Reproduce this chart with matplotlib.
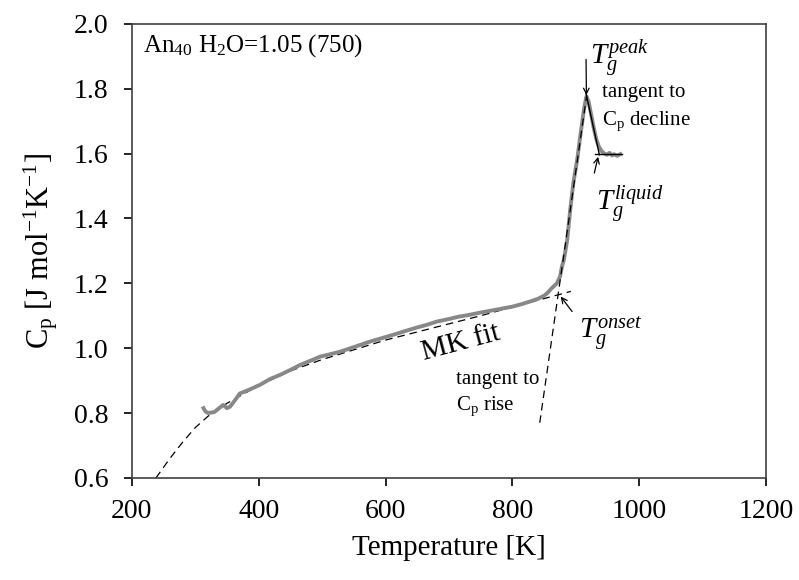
import numpy as np
from matplotlib import pyplot as plt

temp_k = [313, 316, 320, 330, 344, 350, 355, 362, 370, 385, 402, 418, 434, 450,
          465, 480, 497, 512, 528, 545, 560, 575, 589, 610, 628, 650, 665, 681,
          700, 715, 733, 750, 770, 786, 800, 815, 828, 840, 850, 855, 862, 870,
          875, 878, 881, 886, 891, 896, 902, 908, 913, 916.6, 920, 924, 928, 932,
          936, 941, 945, 949, 953, 957, 960, 965, 970]
cp = [0.815, 0.805, 0.800, 0.803, 0.825, 0.815, 0.820, 0.838, 0.860, 0.872,
      0.887, 0.905, 0.918, 0.933, 0.948, 0.960, 0.974, 0.981, 0.989, 1.000,
      1.010, 1.020, 1.028, 1.040, 1.051, 1.064, 1.072, 1.082, 1.090, 1.097,
      1.103, 1.110, 1.117, 1.123, 1.128, 1.136, 1.144, 1.152, 1.162, 1.170,
      1.185, 1.200, 1.221, 1.252, 1.272, 1.330, 1.426, 1.510, 1.581, 1.670,
      1.740, 1.776, 1.760, 1.720, 1.680, 1.645, 1.622, 1.606, 1.600, 1.596,
      1.602, 1.594, 1.598, 1.593, 1.598]

# MK fit (dashed)
mk_t = [238, 260, 280, 300, 320, 350, 400, 450, 500, 550, 600, 650, 700, 750,
        800, 850, 875, 892]
mk_cp = [0.600, 0.660, 0.710, 0.755, 0.790, 0.830, 0.885, 0.930, 0.965, 0.995,
         1.025, 1.050, 1.075, 1.100, 1.127, 1.153, 1.166, 1.175]

# tangent lines
rise_t = [843, 917]
rise_cp = [0.77, 1.78]
decline_t = [916, 937]
decline_cp = [1.785, 1.596]
liquid_t = [930, 972]
liquid_cp = [1.60, 1.60]

plt.rcParams['font.family'] = ['Liberation Serif', 'DejaVu Serif']
plt.rcParams['mathtext.fontset'] = 'custom'
plt.rcParams['mathtext.rm'] = 'Liberation Serif'
plt.rcParams['mathtext.it'] = 'Liberation Serif:italic'
plt.rcParams['mathtext.bf'] = 'Liberation Serif:bold'

fig = plt.figure(figsize=(7.99, 5.80), dpi=100)
ax = fig.add_axes([0.165, 0.176, 0.794, 0.783])

ax.plot(mk_t, mk_cp, color='black', lw=0.9, dashes=(6, 4))
ax.plot(temp_k, cp, color='#888888', lw=2.8, solid_joinstyle='round')
ax.plot(rise_t, rise_cp, color='black', lw=0.9, dashes=(6, 4))
ax.plot(decline_t, decline_cp, color='black', lw=1.0)
ax.plot(liquid_t, liquid_cp, color='black', lw=1.0)

ax.set_xlim(200, 1200)
ax.set_ylim(0.6, 2.0)
ax.set_xticks([200, 400, 600, 800, 1000, 1200])
ax.set_yticks(np.arange(0.6, 2.01, 0.2))
ax.yaxis.set_major_formatter(plt.FormatStrFormatter('%.1f'))
ax.tick_params(direction='out', length=6, width=1.2, labelsize=20, colors='black')
ax.tick_params(axis='x', pad=9)
ax.tick_params(axis='y', pad=11)
for s in ax.spines.values():
    s.set_linewidth(1.2)
    s.set_color('#404040')

ax.set_xlabel('Temperature [K]', fontsize=21, labelpad=8)
ax.set_ylabel(r'C$_\mathrm{p}$ [J mol$^\mathrm{-1}$K$^\mathrm{-1}$]', fontsize=22, labelpad=10)

ax.text(0.017, 0.953, r'An$_\mathrm{40}$ H$_\mathrm{2}$O=1.05 (750)', transform=ax.transAxes,
        fontsize=18, ha='left', va='center')

ax.text(718, 1.015, 'MK fit', fontsize=21, rotation=15, ha='center', va='center')
ax.text(711, 0.902, 'tangent to', fontsize=15, ha='left', va='center')
ax.text(711, 0.820, r'C$_\mathrm{p}$ rise', fontsize=15, ha='left', va='center')
ax.text(941, 1.787, 'tangent to', fontsize=15, ha='left', va='center')
ax.text(941, 1.698, r'C$_\mathrm{p}$ decline', fontsize=15, ha='left', va='center')

arrow = dict(arrowstyle='->', color='black', lw=0.9, shrinkA=0, shrinkB=0)
ax.annotate('', xy=(916.5, 1.78), xytext=(916, 1.89), arrowprops=arrow)
ax.annotate('', xy=(935, 1.59), xytext=(929, 1.54), arrowprops=arrow)
ax.annotate('', xy=(876, 1.159), xytext=(894, 1.113), arrowprops=arrow)

ax.text(922, 1.895, r'$T_g^{peak}$', fontsize=21, ha='left', va='center')
ax.text(932, 1.445, r'$T_g^{liquid}$', fontsize=21, ha='left', va='center')
ax.text(905, 1.045, r'$T_g^{onset}$', fontsize=21, ha='left', va='center')

fig.savefig('out.png', dpi=100)
